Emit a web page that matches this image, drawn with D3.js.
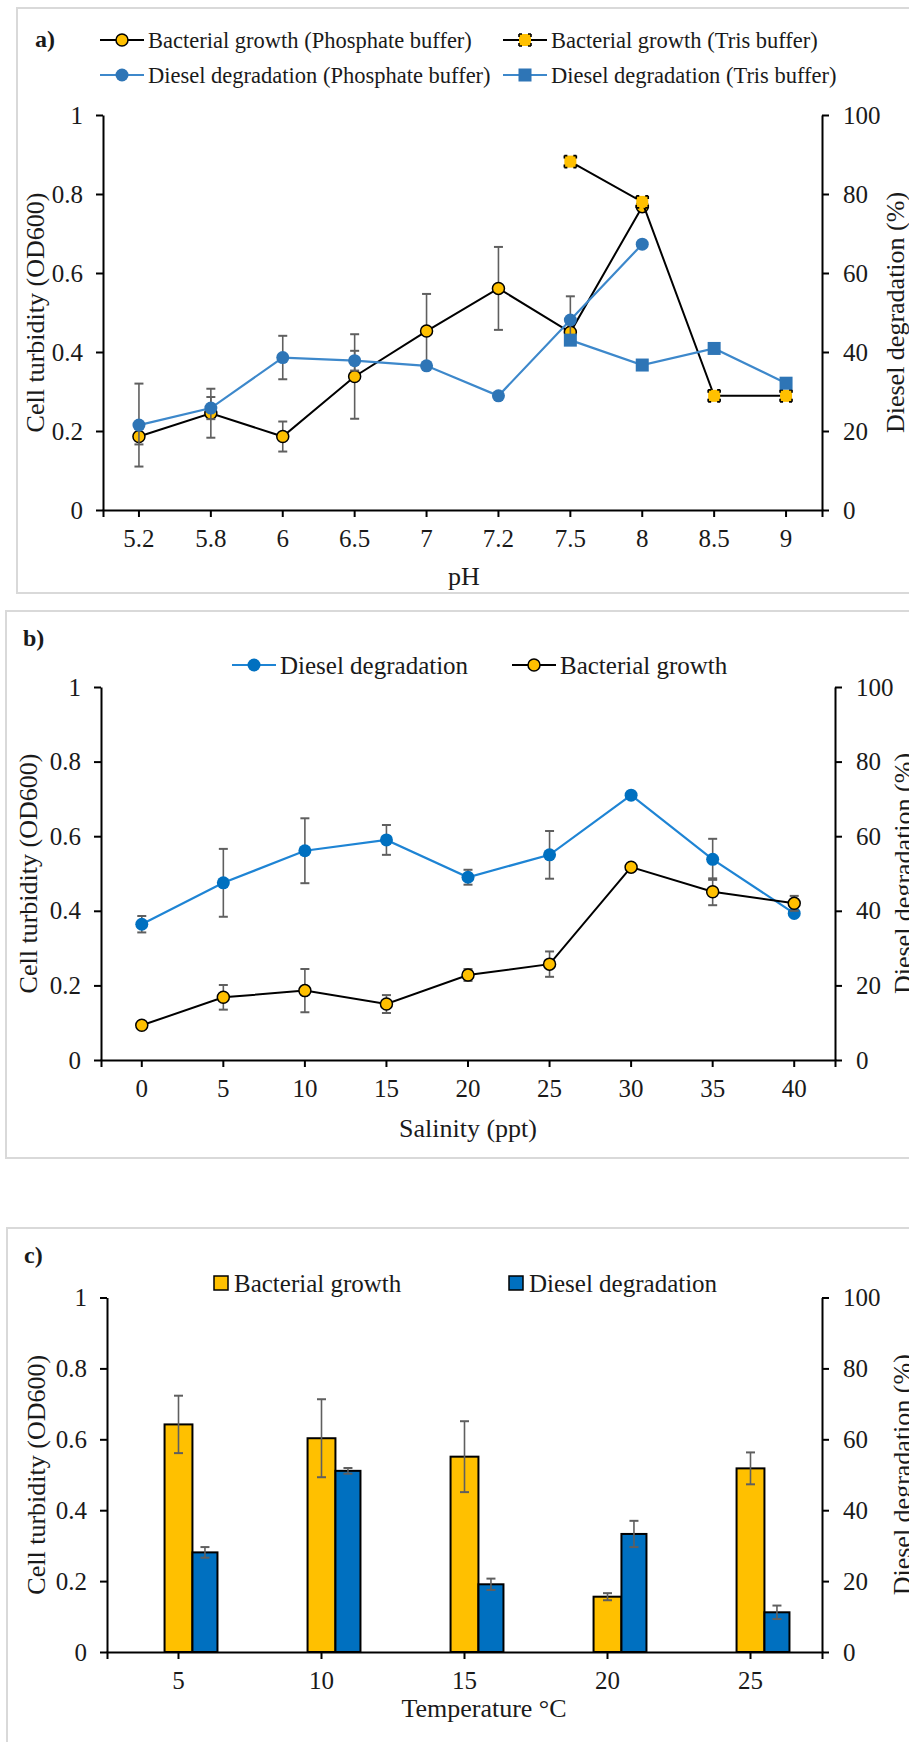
<!DOCTYPE html>
<html>
<head>
<meta charset="utf-8">
<script src="https://cdn.jsdelivr.net/npm/d3@7"></script>
<style>
  body { margin: 0; background: #fff; }
  svg { display: block; }
  text { font-family: "Liberation Serif", "Times New Roman", serif; fill: #1a1a1a; }
</style>
</head>
<body>
<svg id="chart" width="909" height="1742"></svg>
<script>
// ---- data ----
// a) pH
const pH = ["5.2", "5.8", "6", "6.5", "7", "7.2", "7.5", "8", "8.5", "9"];
const growthPhosphate    = [0.186, 0.245, 0.186, 0.338, 0.453, 0.561, 0.45, 0.768, null, null];
const growthPhosphateErr = [0.02, 0.062, 0.038, 0.107, 0.094, 0.105, 0, 0, null, null];
const growthTris         = [null, null, null, null, null, null, 0.882, 0.78, 0.289, 0.289];
const dieselPhosphate    = [21.5, 25.8, 38.6, 37.8, 36.5, 28.9, 48.1, 67.3, null, null];
const dieselPhosphateErr = [10.5, 2.8, 5.5, 2.5, 0, 0, 6, 0, null, null];
const dieselTris         = [null, null, null, null, null, null, 43.0, 36.7, 40.9, 32.1];

// b) salinity
const salinity = ["0", "5", "10", "15", "20", "25", "30", "35", "40"];
const salDiesel    = [36.4, 47.5, 56.1, 59.0, 49.0, 55.0, 71.0, 53.8, 39.3];
const salDieselErr = [2.2, 9.1, 8.7, 4.0, 2.0, 6.4, 0, 5.5, 0];
const salGrowth    = [0.093, 0.168, 0.186, 0.150, 0.228, 0.257, 0.517, 0.451, 0.420];
const salGrowthErr = [0, 0.033, 0.058, 0.024, 0.016, 0.034, 0, 0.036, 0.02];

// c) temperature
const temperature = ["5", "10", "15", "20", "25"];
const tempGrowth    = [0.642, 0.603, 0.551, 0.156, 0.518];
const tempGrowthErr = [0.081, 0.11, 0.1, 0.01, 0.045];
const tempDiesel    = [28.1, 51.1, 19.1, 33.3, 11.2];
const tempDieselErr = [1.5, 0.8, 1.6, 3.7, 1.9];

const odTicks = [0, 0.2, 0.4, 0.6, 0.8, 1];
const pctTicks = [0, 20, 40, 60, 80, 100];

// ---- colours ----
const YELLOW = "#FFC000", BLUE_A = "#2E75B6", BLUE_A_LINE = "#3D88CB",
      BLUE = "#0070C0", BLUE_B_LINE = "#1E84D4", ERR = "#5f5f5f";

const svg = d3.select("#chart");

// panel frames (light grey boxes, right side runs off the page)
function frame(x, y, h) {
  svg.append("rect").attr("x", x).attr("y", y).attr("width", 1000).attr("height", h)
    .attr("fill", "none").attr("stroke", "#d9d9d9").attr("stroke-width", 2);
}

function scales(p, cats) {
  return {
    x: d3.scaleBand().domain(cats).range([p.left, p.right]),
    yL: d3.scaleLinear().domain([0, 1]).range([p.bottom, p.top]),
    yR: d3.scaleLinear().domain([0, 100]).range([p.bottom, p.top])
  };
}

function styleAxis(g, size) {
  g.attr("font-family", null).attr("font-size", size).attr("color", "#000");
  g.select(".domain").attr("stroke-width", 2);
  g.selectAll(".tick line").attr("stroke-width", 2);
}

function axes(p, s, t) {
  const gx = svg.append("g").attr("transform", `translate(0,${p.bottom})`)
    .call(d3.axisBottom(s.x).tickSize(7).tickSizeOuter(7).tickPadding(12));
  const gl = svg.append("g").attr("transform", `translate(${p.left},0)`)
    .call(d3.axisLeft(s.yL).tickValues(odTicks).tickSize(7).tickSizeOuter(0).tickPadding(13)
      .tickFormat(d => String(+d.toFixed(1))));
  const gr = svg.append("g").attr("transform", `translate(${p.right},0)`)
    .call(d3.axisRight(s.yR).tickValues(pctTicks).tickSize(7).tickSizeOuter(0).tickPadding(14));
  [gx, gl, gr].forEach(g => styleAxis(g, 25));

  const midY = (p.top + p.bottom) / 2;
  svg.append("text").attr("x", t.xTitleX).attr("y", t.xTitleY).attr("text-anchor", "middle")
    .attr("font-size", 26).text(t.xTitle);
  svg.append("text").attr("transform", `translate(${t.leftX},${midY}) rotate(-90)`)
    .attr("text-anchor", "middle").attr("font-size", 26).text("Cell turbidity (OD600)");
  svg.append("text").attr("transform", `translate(${t.rightX},${midY}) rotate(-90)`)
    .attr("text-anchor", "middle").attr("font-size", 26).text("Diesel degradation (%)");
  svg.append("text").attr("x", t.tagX).attr("y", t.tagY).attr("font-size", 24)
    .attr("font-weight", "bold").text(t.tag);
}

function pts(cats, vals, errs) {
  return cats.map((c, i) => ({ c, v: vals[i], e: errs ? errs[i] : 0 })).filter(d => d.v != null);
}

function errorBars(g, data, cx, y) {
  data.filter(d => d.e > 0).forEach(d => {
    const x0 = cx(d), y1 = y(d.v - d.e), y2 = y(d.v + d.e);
    g.append("line").attr("x1", x0).attr("x2", x0).attr("y1", y1).attr("y2", y2)
      .attr("stroke", ERR).attr("stroke-width", 1.6);
    [y1, y2].forEach(yy => g.append("line").attr("x1", x0 - 4.5).attr("x2", x0 + 4.5)
      .attr("y1", yy).attr("y2", yy).attr("stroke", ERR).attr("stroke-width", 2));
  });
}

function marker(g, type, x0, y0) {
  if (type === "ycircle") {
    g.append("circle").attr("cx", x0).attr("cy", y0).attr("r", 6)
      .attr("fill", YELLOW).attr("stroke", "#000").attr("stroke-width", 1.5);
  } else if (type === "bcircle" || type === "bcircleB") {
    g.append("circle").attr("cx", x0).attr("cy", y0).attr("r", 6.5)
      .attr("fill", type === "bcircle" ? BLUE_A : BLUE);
  } else if (type === "ysquare") {
    g.append("rect").attr("x", x0 - 6).attr("y", y0 - 6).attr("width", 12).attr("height", 12)
      .attr("fill", YELLOW).attr("stroke", "#000").attr("stroke-width", 1.6)
      .attr("stroke-dasharray", "3 6 3 0");
  } else if (type === "bsquare") {
    g.append("rect").attr("x", x0 - 6.5).attr("y", y0 - 6.5).attr("width", 13).attr("height", 13)
      .attr("fill", BLUE_A);
  }
}

function lineSeries(s, data, y, color, width, type) {
  const g = svg.append("g");
  const cx = d => s.x(d.c) + s.x.bandwidth() / 2;
  errorBars(g, data, cx, y);
  g.append("path").datum(data)
    .attr("d", d3.line().x(cx).y(d => y(d.v)))
    .attr("fill", "none").attr("stroke", color).attr("stroke-width", width);
  data.forEach(d => marker(g, type, cx(d), y(d.v)));
}

function legendLine(x, y, color, type, label, size) {
  svg.append("line").attr("x1", x).attr("x2", x + 44).attr("y1", y).attr("y2", y)
    .attr("stroke", color).attr("stroke-width", 2);
  marker(svg.append("g"), type, x + 22, y);
  svg.append("text").attr("x", x + 48).attr("y", y).attr("dy", "0.35em")
    .attr("font-size", size).text(label);
}

// ===== a) pH =====
frame(17, 8, 585);
const pa = { left: 103, right: 822, top: 115, bottom: 510 };
const sa = scales(pa, pH);
axes(pa, sa, { xTitle: "pH", xTitleX: 464, xTitleY: 585, leftX: 44, rightX: 904, tag: "a)", tagX: 35, tagY: 47 });
lineSeries(sa, pts(pH, growthPhosphate, growthPhosphateErr), sa.yL, "#000", 2, "ycircle");
lineSeries(sa, pts(pH, growthTris), sa.yL, "#000", 2, "ysquare");
lineSeries(sa, pts(pH, dieselPhosphate, dieselPhosphateErr), sa.yR, BLUE_A_LINE, 2.2, "bcircle");
lineSeries(sa, pts(pH, dieselTris), sa.yR, BLUE_A_LINE, 2.2, "bsquare");
legendLine(100, 40, "#000", "ycircle", "Bacterial growth (Phosphate buffer)", 22.5);
legendLine(503, 40, "#000", "ysquare", "Bacterial growth (Tris buffer)", 22.5);
legendLine(100, 75, BLUE_A_LINE, "bcircle", "Diesel degradation (Phosphate buffer)", 22.5);
legendLine(503, 75, BLUE_A_LINE, "bsquare", "Diesel degradation (Tris buffer)", 22.5);

// ===== b) salinity =====
frame(6, 611, 547);
const pb = { left: 101, right: 835, top: 687, bottom: 1060 };
const sb = scales(pb, salinity);
axes(pb, sb, { xTitle: "Salinity (ppt)", xTitleX: 468, xTitleY: 1137, leftX: 37, rightX: 912, tag: "b)", tagX: 23, tagY: 646 });
lineSeries(sb, pts(salinity, salDiesel, salDieselErr), sb.yR, BLUE_B_LINE, 2.2, "bcircleB");
lineSeries(sb, pts(salinity, salGrowth, salGrowthErr), sb.yL, "#000", 2, "ycircle");
legendLine(232, 665, BLUE_B_LINE, "bcircleB", "Diesel degradation", 25);
legendLine(512, 665, "#000", "ycircle", "Bacterial growth", 25);

// ===== c) temperature =====
frame(7, 1228, 600);
const pc = { left: 107, right: 822, top: 1297.5, bottom: 1652 };
const sc = scales(pc, temperature);
const bw = sc.x.bandwidth();
const yellowW = bw * 0.195, blueW = bw * 0.175;
const gc = svg.append("g");
const centre = c => sc.x(c) + bw / 2;
temperature.forEach((c, i) => {
  gc.append("rect").attr("x", centre(c) - yellowW / 2).attr("y", sc.yL(tempGrowth[i]))
    .attr("width", yellowW).attr("height", pc.bottom - sc.yL(tempGrowth[i]))
    .attr("fill", YELLOW).attr("stroke", "#000").attr("stroke-width", 2);
  gc.append("rect").attr("x", centre(c) + yellowW / 2).attr("y", sc.yR(tempDiesel[i]))
    .attr("width", blueW).attr("height", pc.bottom - sc.yR(tempDiesel[i]))
    .attr("fill", BLUE).attr("stroke", "#000").attr("stroke-width", 2);
});
errorBars(gc, pts(temperature, tempGrowth, tempGrowthErr), d => centre(d.c), sc.yL);
errorBars(gc, pts(temperature, tempDiesel, tempDieselErr), d => centre(d.c) + yellowW / 2 + blueW / 2, sc.yR);
axes(pc, sc, { xTitle: "Temperature °C", xTitleX: 484, xTitleY: 1717, leftX: 45, rightX: 911, tag: "c)", tagX: 24, tagY: 1263 });

[[214, "#000", YELLOW, "Bacterial growth"], [509, "#000", BLUE, "Diesel degradation"]].forEach(([x, s, f, label]) => {
  svg.append("rect").attr("x", x).attr("y", 1276).attr("width", 14).attr("height", 14)
    .attr("fill", f).attr("stroke", s).attr("stroke-width", 1.5);
  svg.append("text").attr("x", x + 20).attr("y", 1283).attr("dy", "0.35em")
    .attr("font-size", 25).text(label);
});
</script>
</body>
</html>
